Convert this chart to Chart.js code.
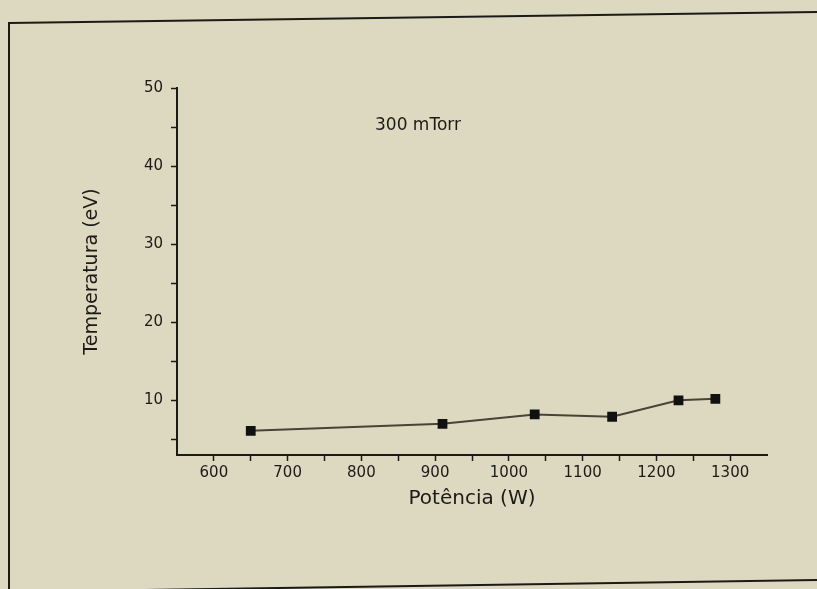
<!DOCTYPE html>
<html>
<head>
<meta charset="utf-8">
<script src="https://cdn.jsdelivr.net/npm/chart.js@4"></script>
<style>
  html, body { margin: 0; padding: 0; background: #ddd9c0; }
  #wrap { width: 817px; height: 589px; }
</style>
</head>
<body>
<div id="wrap"><canvas id="grafico" width="817" height="589"></canvas></div>
<script>
// Potência (W) x Temperatura (eV), 300 mTorr
var potencia = [650, 910, 1035, 1140, 1230, 1280];
var temperatura = [6.1, 7.0, 8.2, 7.9, 10.0, 10.2];
var ticksX = [600, 650, 700, 750, 800, 850, 900, 950, 1000, 1050, 1100, 1150, 1200, 1250, 1300];
var ticksY = [5, 10, 15, 20, 25, 30, 35, 40, 45, 50];

var tinta = '#1c1a16';
var fonte = '"DejaVu Sans", "Liberation Sans", sans-serif';

// moldura e legenda de texto
var moldura = {
    id: 'moldura',
    beforeDraw: function(chart) {
        var c = chart.ctx;
        c.save();
        c.fillStyle = '#ddd9c0';
        c.fillRect(0, 0, chart.width, chart.height);
        c.strokeStyle = tinta;
        c.lineWidth = 2;
        c.beginPath();
        c.moveTo(9, 23);
        c.lineTo(820, 12);
        c.lineTo(820, 580);
        c.lineTo(9, 592);
        c.closePath();
        c.stroke();
        c.restore();
    },
    afterDraw: function(chart) {
        var c = chart.ctx;
        c.save();
        c.fillStyle = tinta;
        c.font = '17px ' + fonte;
        c.textAlign = 'center';
        c.textBaseline = 'middle';
        c.fillText('300 mTorr', 418, 126);
        c.restore();
    }
};

var ctx = document.getElementById('grafico').getContext('2d');

var grafico = new Chart(ctx, {
    type: 'line',
    data: {
        datasets: [{
            label: '300 mTorr',
            data: potencia.map(function(p, i) { return { x: p, y: temperatura[i] }; }),
            borderColor: '#4a4236',
            borderWidth: 2,
            pointStyle: 'rect',
            pointRadius: 5.5,
            pointBackgroundColor: '#111',
            pointBorderColor: '#111',
            tension: 0
        }]
    },
    options: {
        responsive: false,
        animation: false,
        layout: { padding: { left: 77, top: 88, right: 50, bottom: 74 } },
        plugins: { legend: { display: false }, tooltip: { enabled: false } },
        scales: {
            x: {
                type: 'linear',
                min: 550,
                max: 1350,
                afterBuildTicks: function(axis) {
                    axis.ticks = ticksX.map(function(v) { return { value: v }; });
                },
                afterFit: function(axis) { axis.height = 60; },
                grid: { drawOnChartArea: false, tickLength: 6, tickColor: tinta, tickWidth: 1.5 },
                border: { color: tinta, width: 2 },
                ticks: {
                    color: tinta,
                    padding: 3,
                    maxRotation: 0,
                    autoSkip: false,
                    font: { family: fonte, size: 15 },
                    callback: function(v) { return v % 100 === 0 ? v : ''; }
                },
                title: {
                    display: true,
                    text: 'Potência (W)',
                    color: tinta,
                    padding: { top: 4, bottom: 4 },
                    font: { family: fonte, size: 20 }
                }
            },
            y: {
                min: 3,
                max: 50,
                afterBuildTicks: function(axis) {
                    axis.ticks = ticksY.map(function(v) { return { value: v }; });
                },
                afterFit: function(axis) { axis.width = 100; },
                grid: { drawOnChartArea: false, tickLength: 6, tickColor: tinta, tickWidth: 1.5 },
                border: { color: tinta, width: 2 },
                ticks: {
                    color: tinta,
                    padding: 8,
                    autoSkip: false,
                    font: { family: fonte, size: 15 },
                    callback: function(v) { return v % 10 === 0 ? v : ''; }
                },
                title: {
                    display: true,
                    text: 'Temperatura (eV)',
                    color: tinta,
                    padding: { top: 4, bottom: 4 },
                    font: { family: fonte, size: 19 }
                }
            }
        }
    },
    plugins: [moldura]
});
</script>
</body>
</html>
